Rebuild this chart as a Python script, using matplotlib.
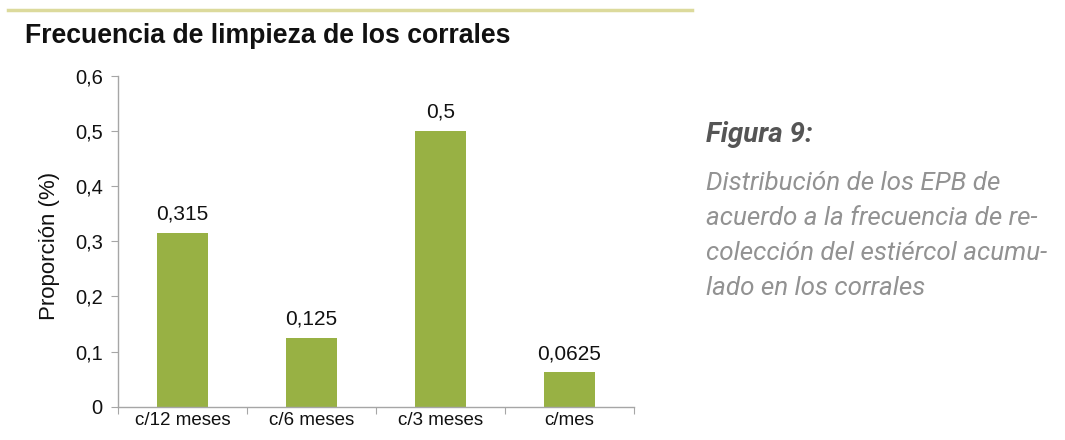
import matplotlib
matplotlib.use("Agg")
import matplotlib.pyplot as plt
from matplotlib.lines import Line2D

categories = ["c/12 meses", "c/6 meses", "c/3 meses", "c/mes"]
values = [0.315, 0.125, 0.5, 0.0625]
value_labels = ["0,315", "0,125", "0,5", "0,0625"]
yticks = [0, 0.1, 0.2, 0.3, 0.4, 0.5, 0.6]
ytick_labels = ["0", "0,1", "0,2", "0,3", "0,4", "0,5", "0,6"]

title = "Frecuencia de limpieza de los corrales"
ylabel = "Proporción (%)"
caption_head = "Figura 9:"
caption_lines = ["Distribución de los EPB de",
                 "acuerdo a la frecuencia de re-",
                 "colección del estiércol acumu-",
                 "lado en los corrales"]

W, H = 1065, 440
fig = plt.figure(figsize=(W/100, H/100), dpi=100)
fig.patch.set_facecolor("white")

ax = fig.add_axes([118/W, 1-406.7/H, (634-118)/W, (406.7-75.8)/H])
x = list(range(len(categories)))
bars = ax.bar(x, values, width=0.40, color="#98b144", zorder=2)
ax.set_xlim(-0.5, 3.5)
ax.set_ylim(0, 0.6)

spine_c = "#a6a6a6"
for s in ["top", "right"]:
    ax.spines[s].set_visible(False)
for s in ["left", "bottom"]:
    ax.spines[s].set_color(spine_c)
    ax.spines[s].set_linewidth(1.0)

ax.set_yticks(yticks)
ax.set_yticklabels(ytick_labels, fontfamily="Liberation Sans", fontsize=14.5, color="#111111")
ax.tick_params(axis="y", length=5, color=spine_c, pad=6)

ax.set_xticks([-0.5, 0.5, 1.5, 2.5, 3.5])
ax.set_xticklabels([])
ax.set_xticks(x, minor=True)
ax.set_xticklabels(categories, minor=True, fontfamily="Liberation Sans", fontsize=13.5,
                   color="#111111")
ax.tick_params(axis="x", which="major", length=5, color=spine_c)
ax.tick_params(axis="x", which="minor", length=0, pad=4)

for xi, v, lab in zip(x, values, value_labels):
    ax.annotate(lab, (xi, v), xytext=(0, 9.5), textcoords="offset points",
                ha="center", va="baseline", fontfamily="Liberation Sans", fontsize=15,
                color="#111111")

fig.text(49/W, 1-246/H, ylabel, rotation=90, ha="center", va="center",
         fontfamily="Liberation Sans", fontsize=16, color="#111111")

fig.add_artist(Line2D([8/W, 692/W], [1-10/H, 1-10/H], color="#dcda9c", lw=2.5))

fig.text(25/W, 1-43/H, title, ha="left", va="baseline",
         fontfamily="Liberation Sans", fontweight="bold", fontsize=19.2, color="#111111")

fig.text(706/W, 1-142/H, caption_head, ha="left", va="baseline",
         fontfamily="Roboto", fontweight="bold", fontstyle="italic", fontsize=20,
         color="#555555")
for i, line in enumerate(caption_lines):
    fig.text(706/W, 1-(190+35*i)/H, line, ha="left", va="baseline",
             fontfamily="Roboto", fontstyle="italic", fontweight="normal", fontsize=18.7,
             color="#929292")

fig.savefig("out.png", dpi=100, facecolor="white")
